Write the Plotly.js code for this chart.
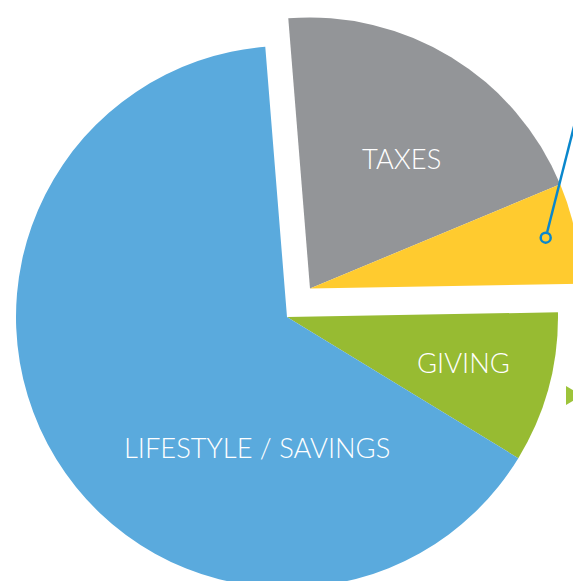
<!DOCTYPE html>
<html>
<head>
<meta charset="utf-8">
<script src="https://cdn.plot.ly/plotly-3.0.1.min.js"></script>
<style>
html, body { margin:0; padding:0; width:573px; height:581px; overflow:hidden; background:#fff; }
#chart { position:absolute; left:-113px; top:-83px; width:800px; height:800px; }
</style>
</head>
<body>
<div id="chart"></div>
<script>
// Data
var categories = ["TAXES", "", "GIVING", "LIFESTYLE / SAVINGS"];
var taxesValue = 20;
var otherTaxValue = 6;
var givingValue = 9;
var lifestyleValue = 65;

var colors = {
  taxes: "#939598",
  other: "#FFCB2F",
  giving: "#97BB32",
  lifestyle: "#5AAADD",
  none: "rgba(0,0,0,0)"
};

var DIV = 800, OFFX = 113, OFFY = 83;
function px(x) { return (x + OFFX) / DIV; }
function py(y) { return 1 - (y + OFFY) / DIV; }

var R = 271;
var half = R / DIV;
var cA = [287, 317];     // main pie centre (page px)
var cB = [310, 288.5];   // exploded group centre (page px)
var rot = -4.6;

var traceMain = {
  type: "pie",
  values: [taxesValue + otherTaxValue, givingValue, lifestyleValue],
  labels: ["group", categories[2], categories[3]],
  marker: { colors: [colors.none, colors.giving, colors.lifestyle], line: { width: 0 } },
  sort: false, direction: "clockwise", rotation: rot,
  textinfo: "none", hoverinfo: "skip", showlegend: false,
  domain: { x: [px(cA[0]) - half, px(cA[0]) + half], y: [py(cA[1]) - half, py(cA[1]) + half] }
};

var traceGroup = {
  type: "pie",
  values: [taxesValue, otherTaxValue, givingValue + lifestyleValue],
  labels: [categories[0], "other", "rest"],
  marker: { colors: [colors.taxes, colors.other, colors.none], line: { width: 0 } },
  sort: false, direction: "clockwise", rotation: rot,
  textinfo: "none", hoverinfo: "skip", showlegend: false,
  domain: { x: [px(cB[0]) - half, px(cB[0]) + half], y: [py(cB[1]) - half, py(cB[1]) + half] }
};

var font = { family: "Lato, sans-serif", size: 27.3, weight: 300, color: "#ffffff" };

var annotations = [
  { text: categories[0], x: px(401), y: py(158), xref: "paper", yref: "paper", showarrow: false, font: font, xanchor: "center", yanchor: "middle" },
  { text: categories[2], x: px(463.5), y: py(362), xref: "paper", yref: "paper", showarrow: false, font: font, xanchor: "center", yanchor: "middle" },
  { text: categories[3], x: px(256.5), y: py(447), xref: "paper", yref: "paper", showarrow: false, font: font, xanchor: "center", yanchor: "middle" }
];

var lineColor = "#0A87CC";
var shapes = [
  { type: "line", xref: "paper", yref: "paper", x0: px(547.2), y0: py(232), x1: px(582), y1: py(95), line: { color: lineColor, width: 2.5 } },
  { type: "circle", xref: "paper", yref: "paper", x0: px(540.7), y0: py(232.7), x1: px(550.7), y1: py(242.7), fillcolor: colors.other, line: { color: lineColor, width: 2.5 } },
  { type: "path", xref: "paper", yref: "paper",
    path: "M " + px(566) + "," + py(386) + " L " + px(566) + "," + py(405) + " L " + px(582) + "," + py(395.5) + " Z",
    fillcolor: "#9DC43A", line: { width: 0 } }
];

var layout = {
  width: DIV, height: DIV,
  margin: { l: 0, r: 0, t: 0, b: 0, pad: 0 },
  paper_bgcolor: "#ffffff", plot_bgcolor: "#ffffff",
  showlegend: false,
  annotations: annotations,
  shapes: shapes
};

Plotly.newPlot("chart", [traceMain, traceGroup], layout, { displayModeBar: false, staticPlot: true });
</script>
</body>
</html>
